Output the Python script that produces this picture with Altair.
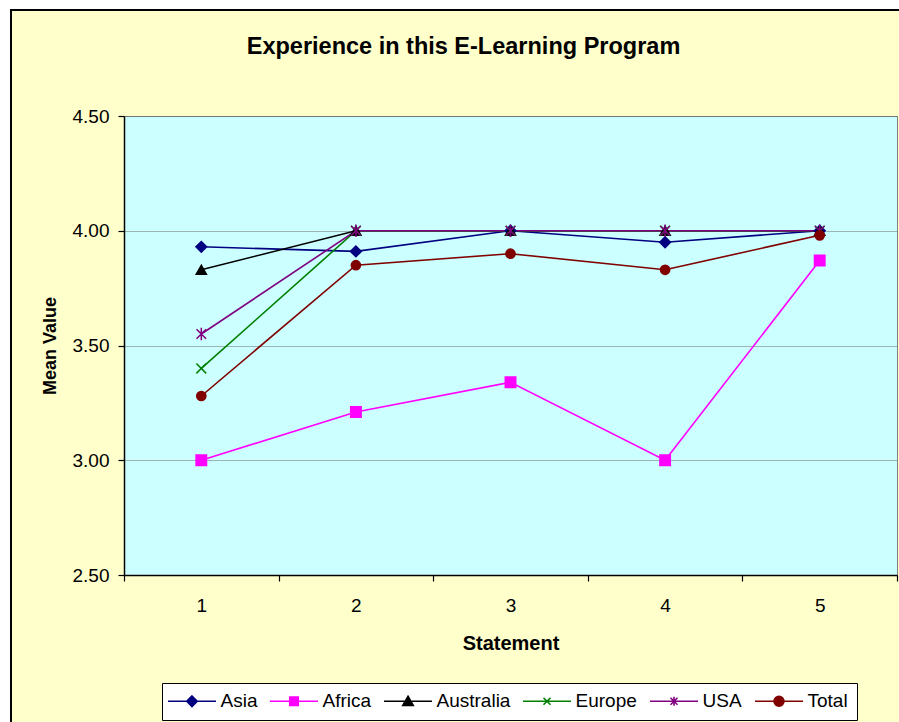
import altair as alt
import pandas as pd

# ---- data ----
statements = [1, 2, 3, 4, 5]
series = ["Asia", "Africa", "Australia", "Europe", "USA", "Total"]
asia = [3.93, 3.91, 4.00, 3.95, 4.00]
africa = [3.00, 3.21, 3.34, 3.00, 3.87]
australia = [3.83, 4.00, 4.00, 4.00, 4.00]
europe = [3.40, 4.00, 4.00, 4.00, 4.00]
usa = [3.55, 4.00, 4.00, 4.00, 4.00]
total = [3.28, 3.85, 3.90, 3.83, 3.98]
y_ticks = [2.5, 3.0, 3.5, 4.0, 4.5]

colors = ["#000080", "#FF00FF", "#000000", "#008000", "#800080", "#800000"]
X_PATH = "M-1,-1L1,1M-1,1L1,-1"
AST_PATH = "M-1,-1L1,1M-1,1L1,-1M0,-1.3L0,1.3"
point_shapes = ["diamond", "square", "triangle-up", X_PATH, AST_PATH, "circle"]
point_sizes = [115, 85, 125, 55, 55, 110]

legend_paths = [
    "M-4.8,0H4.8M0,-1.05L1.05,0L0,1.05L-1.05,0Z",
    "M-4.8,0H4.8M-0.85,-0.85H0.85V0.85H-0.85Z",
    "M-4.8,0H4.8M0,-1.0L1.05,0.85H-1.05Z",
    "M-4.8,0H4.8M-0.7,-0.7L0.7,0.7M-0.7,0.7L0.7,-0.7",
    "M-4.8,0H4.8M-0.7,-0.7L0.7,0.7M-0.7,0.7L0.7,-0.7M0,-0.9L0,0.9",
    "M-4.8,0H4.8M-1,0A1,1,0,1,0,1,0A1,1,0,1,0,-1,0Z",
]

values = {"Asia": asia, "Africa": africa, "Australia": australia,
          "Europe": europe, "USA": usa, "Total": total}
rows = []
for s in series:
    for st, v in zip(statements, values[s]):
        rows.append({"series": s, "statement": st, "value": v})
df = pd.DataFrame(rows)

W, H = 773, 459
FONT = "Liberation Sans"

xscale = alt.Scale(domain=[0.5, 5.5], nice=False, zero=False)
yscale = alt.Scale(domain=[2.5, 4.5], nice=False, zero=False)

x_enc = alt.X(
    "statement:Q", scale=xscale,
    axis=alt.Axis(
        values=[0.5, 1.5, 2.5, 3.5, 4.5, 5.5],
        labelExpr="datum.value < 5 ? '' + (datum.value + 0.5) : ''",
        labelOffset=W / 10, labelFlush=False, labelOverlap=False, labelBound=False,
        tickSize=6, labelPadding=15, grid=False,
        title="Statement", titleFontSize=20, titlePadding=18,
    ),
)
y_enc = alt.Y(
    "value:Q", scale=yscale,
    axis=alt.Axis(
        values=y_ticks, format=".2f", tickSize=6, labelPadding=9,
        grid=True, gridColor="#6a6a6a", gridDash=[1, 1], gridWidth=1,
        title="Mean Value", titleFontSize=18, titlePadding=13,
    ),
)

color_scale = alt.Scale(domain=series, range=colors)

lines = alt.Chart(df).mark_line(strokeWidth=1.6).encode(
    x=x_enc, y=y_enc,
    color=alt.Color("series:N", scale=color_scale, legend=None),
    order=alt.Order("statement:Q"),
)

points = alt.Chart(df).mark_point(filled=False, opacity=1, strokeWidth=1.5).encode(
    x=x_enc, y=y_enc,
    color=alt.Color("series:N", scale=color_scale, legend=None),
    fill=alt.Fill("series:N", scale=color_scale, legend=None),
    shape=alt.Shape("series:N", scale=alt.Scale(domain=series, range=point_shapes), legend=None),
    size=alt.Size("series:N", scale=alt.Scale(domain=series, range=point_sizes), legend=None),
)

leg = dict(
    title=None, orient="none", legendX=38, legendY=567, direction="horizontal",
    columns=6, symbolSize=100, symbolStrokeWidth=1.6, symbolOffset=12,
    labelOffset=19, labelFont=FONT, labelFontSize=19, labelColor="black",
    strokeColor="black", fillColor="white", padding=8.5, columnPadding=9,
    symbolOpacity=1, cornerRadius=0,
)
legend_df = pd.DataFrame({"series": series, "statement": [10] * 6, "value": [3.5] * 6})
legend_layer = alt.Chart(legend_df).mark_point(filled=False, opacity=1, clip=True).encode(
    x=alt.X("statement:Q", scale=xscale),
    y=alt.Y("value:Q", scale=yscale),
    color=alt.Color("series:N", scale=color_scale, legend=alt.Legend(**leg)),
    fill=alt.Fill("series:N", scale=color_scale, legend=alt.Legend(**leg)),
    shape=alt.Shape("series:N", scale=alt.Scale(domain=series, range=legend_paths),
                    legend=alt.Legend(**leg)),
)

one = pd.DataFrame({"k": [0]})
white_edge = alt.Chart(one).mark_rect(filled=False, stroke="white", strokeWidth=20).encode(
    x=alt.value(-124), x2=alt.value(1000), y=alt.value(-116), y2=alt.value(800)
)
black_edge = alt.Chart(one).mark_rect(filled=False, stroke="black", strokeWidth=2).encode(
    x=alt.value(-113), x2=alt.value(1000), y=alt.value(-106), y2=alt.value(800)
)

chart = alt.layer(white_edge, black_edge, lines, points, legend_layer).resolve_scale(
    color="independent", fill="independent", shape="independent", size="independent"
).properties(
    width=W, height=H,
    autosize=alt.AutoSizeParams(type="none"),
    padding={"left": 124, "top": 116, "right": 2, "bottom": 147},
    background="#FFFFCC",
    title=alt.Title(
        "Experience in this E-Learning Program", font=FONT, fontSize=23.5,
        fontWeight="bold", color="black", anchor="middle", frame="group",
        dx=-47, offset=-87, baseline="alphabetic",
    ),
).configure_view(
    fill="#CCFFFF", stroke="#808080", strokeWidth=1
).configure_axis(
    labelFont=FONT, labelFontSize=19, labelColor="black",
    titleFont=FONT, titleFontWeight="bold", titleColor="black",
    domainColor="black", domainWidth=1.5, tickColor="black", tickWidth=1.2,
)

chart.save("out.html", embed_options={"renderer": "svg", "actions": False})
